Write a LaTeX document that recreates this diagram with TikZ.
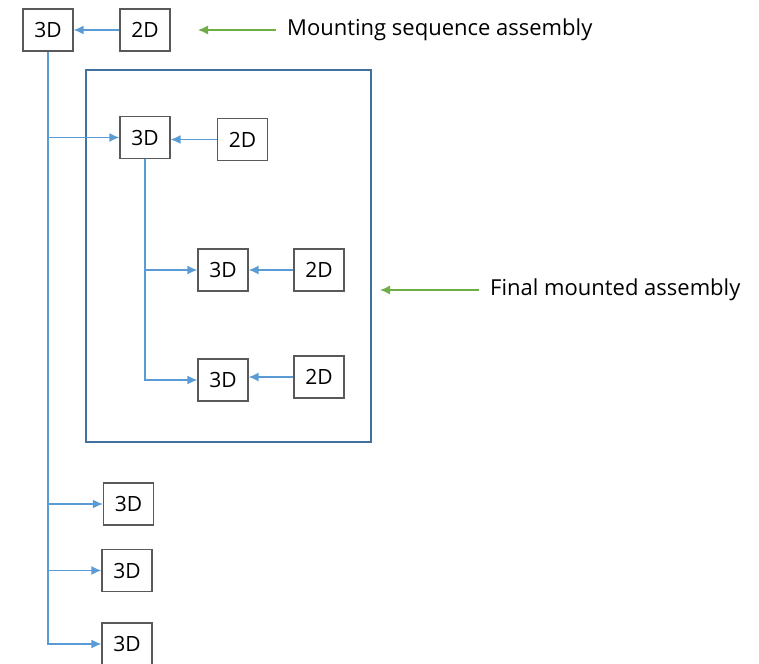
\documentclass[tikz,border=0pt]{standalone}
\usepackage{fontspec}
\setmainfont{Open Sans}
\usetikzlibrary{shapes,arrows.meta}

\definecolor{linkblue}{HTML}{5B9BD5}
\definecolor{frameblue}{HTML}{41719C}
\definecolor{notegreen}{HTML}{70AD47}
\definecolor{boxgray}{HTML}{595959}

\tikzset{
  part/.style={draw=boxgray, line width=1.3pt, minimum width=50pt, minimum height=42pt, inner sep=0pt, font=\fontsize{21}{24}\selectfont},
  link/.style={draw=linkblue, line width=1.4pt, -{Latex[length=10pt,width=9pt]}},
  note/.style={draw=notegreen, line width=1.4pt, -{Latex[length=10pt,width=9pt]}},
  notetext/.style={anchor=west, inner sep=0pt, font=\fontsize{22}{26}\selectfont}
}

\begin{document}
\begin{tikzpicture}[x=1pt,y=-1pt]
        \useasboundingbox (0,0) rectangle (759,663);

        \node[draw=frameblue, line width=2pt, minimum width=285pt, minimum height=372pt] (frame) at (228.5,256) {};

        \node[part] (top3D) at (48,30) {3D};
        \node[part] (top2D) at (145,30) {2D};
        \node[part] (in3D) at (145,137.5) {3D};
        \node[part] (in2D) at (242.5,139.5) {2D};
        \node[part] (a3D) at (223,270) {3D};
        \node[part] (a2D) at (319,270) {2D};
        \node[part] (b3D) at (223,380) {3D};
        \node[part] (b2D) at (319,377) {2D};
        \node[part] (c3D) at (128.5,504) {3D};
        \node[part] (d3D) at (127,570.5) {3D};
        \node[part] (e3D) at (127,644) {3D};

        \node[notetext] (mseq) at (287,30) {Mounting sequence assembly};
        \node[notetext] (fmount) at (490,290) {Final mounted assembly};
        \coordinate (mtip) at (198,30);
        \coordinate (ftip) at (380,290);

        \draw[link] (top2D) -- (top3D);
        \draw[link] (in2D.west) -- (in3D.east |- in2D.west);
        \draw[link] (a2D) -- (a3D);
        \draw[link] (b2D.west) -- (b3D.east |- b2D.west);

        \draw[link] (top3D.south) |- (in3D.west);
        \draw[link] (top3D.south) |- (c3D.west);
        \draw[link] (top3D.south) |- (d3D.west);
        \draw[link] (top3D.south) |- (e3D.west);
        \draw[link] (in3D.south) |- (a3D.west);
        \draw[link] (in3D.south) |- (b3D.west);

        \draw[note, shorten <=11pt] (mseq.west) -- (mtip);
        \draw[note, shorten <=11pt] (fmount.west) -- (ftip);
      \end{tikzpicture}
\end{document}
